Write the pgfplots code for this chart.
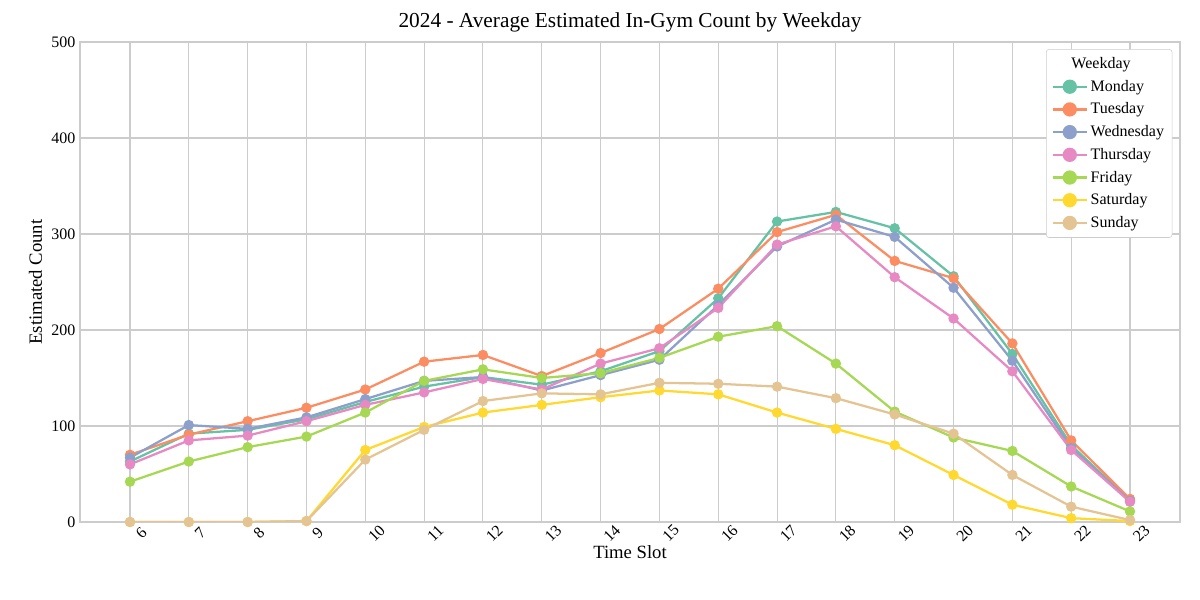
\documentclass[border=0pt]{standalone}
\usepackage{pgfplots}
\pgfplotsset{compat=1.18}
\usepackage{fontspec}
\setmainfont{Liberation Serif}
\definecolor{c1}{HTML}{66C2A5}
\definecolor{c2}{HTML}{FC8D62}
\definecolor{c3}{HTML}{8DA0CB}
\definecolor{c4}{HTML}{E78AC3}
\definecolor{c5}{HTML}{A6D854}
\definecolor{c6}{HTML}{FFD92F}
\definecolor{c7}{HTML}{E5C494}
\definecolor{gr}{HTML}{CCCCCC}
\begin{document}
\begin{tikzpicture}
\path[use as bounding box] (-60pt,-58.5pt) rectangle (840pt,391.5pt);
\begin{axis}[scale only axis, width=825pt, height=360pt,
 xmin=5.15, xmax=23.85, ymin=0, ymax=500,
 xtick={6,...,23}, ytick={0,100,...,500},
 x tick label style={rotate=45, anchor=center, yshift=-12pt},
 grid=major, grid style={gr, line width=0.8pt},
 axis line style={gr, line width=1pt}, tick style={draw=none},
 /pgf/number format/assume math mode=true,
 tick label style={font=\fontsize{12}{14}\selectfont},
 label style={font=\fontsize{14}{16}\selectfont},
 xlabel style={yshift=6pt},
 title style={font=\fontsize{16}{18}\selectfont, yshift=-2pt},
 title={2024 - Average Estimated In-Gym Count by Weekday},
 xlabel={Time Slot}, ylabel={Estimated Count},
 legend style={at={(0.993,0.985)}, anchor=north east, font=\fontsize{12}{14}\selectfont, draw=gr, rounded corners=2pt, row sep=3.2pt, inner sep=4pt},
 legend image post style={scale=1.5},
 legend cell align=left,
 every axis plot/.append style={line width=1.7pt, mark=*, mark size=3pt},
]
\addlegendimage{empty legend}\addlegendentry{\hspace{-1.2em}Weekday}
\addplot[c1] coordinates {(6,63)(7,92)(8,96)(9,107)(10,125)(11,141)(12,151)(13,143)(14,157)(15,178)(16,233)(17,313)(18,323)(19,306)(20,256)(21,175)(22,80)(23,22)};
\addlegendentry{Monday}
\addplot[c2] coordinates {(6,70)(7,91)(8,105)(9,119)(10,138)(11,167)(12,174)(13,152)(14,176)(15,201)(16,243)(17,302)(18,320)(19,272)(20,254)(21,186)(22,85)(23,24)};
\addlegendentry{Tuesday}
\addplot[c3] coordinates {(6,67)(7,101)(8,97)(9,109)(10,128)(11,147)(12,151)(13,137)(14,153)(15,169)(16,226)(17,287)(18,315)(19,297)(20,244)(21,168)(22,77)(23,22)};
\addlegendentry{Wednesday}
\addplot[c4] coordinates {(6,60)(7,85)(8,90)(9,105)(10,122)(11,135)(12,149)(13,138)(14,165)(15,181)(16,223)(17,289)(18,308)(19,255)(20,212)(21,157)(22,75)(23,21)};
\addlegendentry{Thursday}
\addplot[c5] coordinates {(6,42)(7,63)(8,78)(9,89)(10,114)(11,147)(12,159)(13,150)(14,155)(15,171)(16,193)(17,204)(18,165)(19,115)(20,88)(21,74)(22,37)(23,11)};
\addlegendentry{Friday}
\addplot[c6] coordinates {(6,0)(7,0)(8,0)(9,1)(10,75)(11,99)(12,114)(13,122)(14,130)(15,137)(16,133)(17,114)(18,97)(19,80)(20,49)(21,18)(22,4)(23,1)};
\addlegendentry{Saturday}
\addplot[c7] coordinates {(6,0)(7,0)(8,0)(9,1)(10,65)(11,96)(12,126)(13,134)(14,133)(15,145)(16,144)(17,141)(18,129)(19,112)(20,92)(21,49)(22,16)(23,2)};
\addlegendentry{Sunday}
\end{axis}
\end{tikzpicture}
\end{document}
